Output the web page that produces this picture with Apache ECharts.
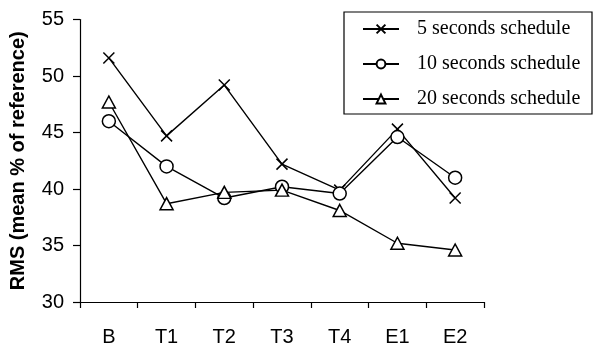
<!DOCTYPE html>
<html>
<head>
<meta charset="utf-8">
<script src="https://cdn.jsdelivr.net/npm/echarts@6/dist/echarts.min.js"></script>
<style>
html,body{margin:0;padding:0;background:#fff;}
#chart{width:593px;height:347px;}
</style>
</head>
<body>
<div id="chart"></div>
<script>
const categories = ['B', 'T1', 'T2', 'T3', 'T4', 'E1', 'E2'];
const seriesNames = ['5 seconds schedule', '10 seconds schedule', '20 seconds schedule'];
const values5s  = [51.6, 44.7, 49.2, 42.2, 39.9, 45.3, 39.2];
const values10s = [46.0, 42.0, 39.2, 40.2, 39.6, 44.6, 41.0];
const values20s = [47.7, 38.7, 39.7, 39.9, 38.1, 35.2, 34.6];
const yTicks = [30, 35, 40, 45, 50, 55];
const yAxisTitle = 'RMS (mean % of reference)';

const chart = echarts.init(document.getElementById('chart'), null, {renderer: 'canvas'});
const sans = 'Liberation Sans, Arial, sans-serif';
const serif = 'Liberation Serif, Times New Roman, serif';

function mk(name, data, symbol, size) {
  return {
    name: name,
    type: 'line',
    data: data,
    symbol: symbol,
    symbolSize: size,
    showAllSymbol: true,
    lineStyle: {color: '#000', width: 1.4},
    itemStyle: {color: '#fff', borderColor: '#000', borderWidth: 1.5},
    emphasis: {disabled: true},
    animation: false,
    z: 3
  };
}

chart.setOption({
  animation: false,
  backgroundColor: '#fff',
  grid: {left: 79, right: 109, top: 19.5, bottom: 40, containLabel: false},
  graphic: [{
    type: 'rect',
    shape: {x: 344, y: 12, width: 248, height: 102},
    style: {fill: '#fff', stroke: '#000', lineWidth: 1.2},
    z: 5
  }],
  legend: {
    orient: 'vertical',
    left: 362,
    top: 19,
    padding: 0,
    itemWidth: 36,
    itemHeight: 11,
    itemGap: 15,
    z: 10,
    data: seriesNames,
    textStyle: {fontFamily: serif, fontSize: 20, color: '#000', padding: [0, 0, 0, 13]}
  },
  xAxis: {
    type: 'category',
    data: categories,
    boundaryGap: true,
    axisLine: {lineStyle: {color: '#000', width: 1.2}},
    axisTick: {show: true, length: 6, lineStyle: {color: '#000', width: 1.2}},
    axisLabel: {fontFamily: sans, fontSize: 20, color: '#000', margin: 25}
  },
  yAxis: {
    type: 'value',
    min: yTicks[0],
    max: yTicks[yTicks.length - 1],
    interval: 5,
    name: yAxisTitle,
    nameLocation: 'middle',
    nameGap: 52,
    nameTextStyle: {fontFamily: sans, fontSize: 20, fontWeight: 'bold', color: '#000'},
    axisLine: {show: true, lineStyle: {color: '#000', width: 1.2}},
    axisTick: {show: true, length: 7, lineStyle: {color: '#000', width: 1.2}},
    axisLabel: {fontFamily: sans, fontSize: 20, color: '#000', margin: 16},
    splitLine: {show: false}
  },
  series: [
    mk(seriesNames[0], values5s, 'path://M0,0L10,10M10,0L0,10', 11),
    mk(seriesNames[1], values10s, 'circle', 13),
    mk(seriesNames[2], values20s, 'triangle', [13, 12])
  ]
});
</script>
</body>
</html>
